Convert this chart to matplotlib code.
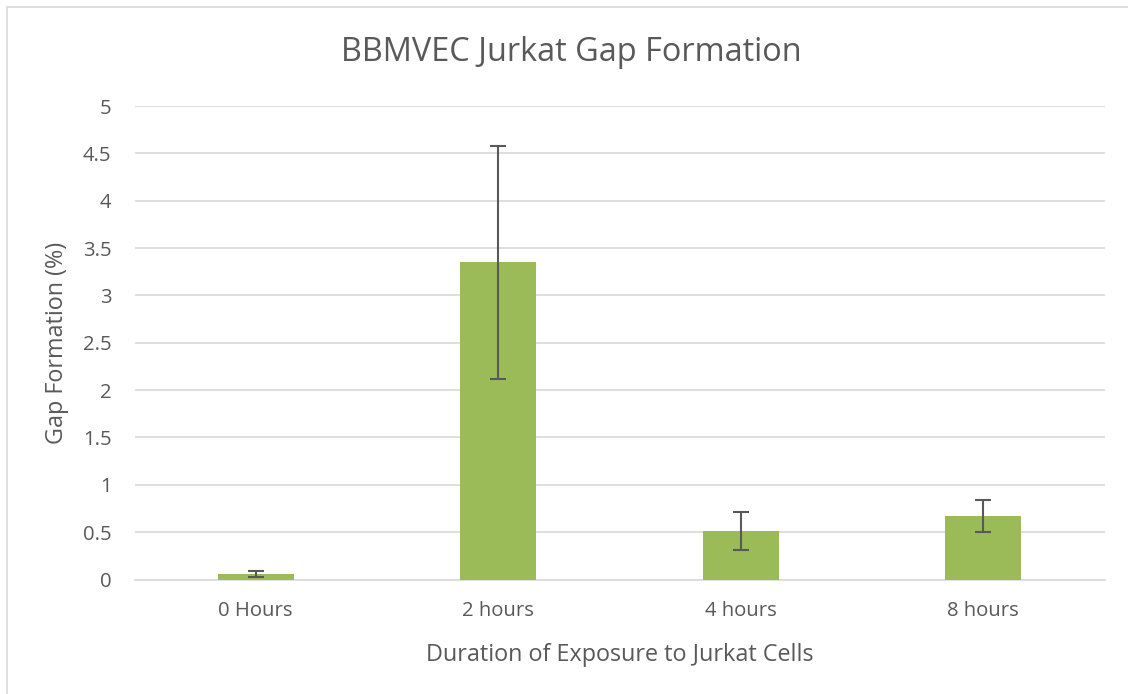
import matplotlib.pyplot as plt
from matplotlib.patches import Rectangle

categories = ['0 Hours', '2 hours', '4 hours', '8 hours']
gap_formation = [0.06, 3.35, 0.51, 0.67]
gap_error = [0.03, 1.23, 0.20, 0.165]

plt.rcParams['font.family'] = ['Open Sans', 'DejaVu Sans']

W, H = 1128, 694
fig = plt.figure(figsize=(W / 100, H / 100), dpi=100)
ax = fig.add_axes([134.5 / W, 1 - 579.5 / H, (1104.5 - 134.5) / W, (579.5 - 106) / H])

# outer chart border (only left/top edges visible in reference)
fig.patches.append(Rectangle((7 / W, -0.1), 1.2, 1 - 7 / H + 0.1, transform=fig.transFigure,
                             fill=False, edgecolor='#d9d9d9', linewidth=1.2))

x = range(len(categories))
ax.bar(x, gap_formation, width=0.315, color='#9bbb59', zorder=3)
ax.errorbar(x, gap_formation, yerr=gap_error, fmt='none', ecolor='#595959',
            elinewidth=1.5, capsize=6, capthick=1.5, zorder=4)

ax.set_xlim(-0.5, 3.5)
ax.set_ylim(0, 5)
ax.set_yticks([0, 0.5, 1, 1.5, 2, 2.5, 3, 3.5, 4, 4.5, 5])
ax.set_yticklabels(['0', '0.5', '1', '1.5', '2', '2.5', '3', '3.5', '4', '4.5', '5'])
ax.set_xticks(list(x))
ax.set_xticklabels(categories)
ax.yaxis.grid(True, color='#d9d9d9', linewidth=1.2, zorder=0)
for s in ['top', 'right', 'left']:
    ax.spines[s].set_visible(False)
ax.spines['bottom'].set_color('#d9d9d9')
ax.spines['bottom'].set_linewidth(1.2)
ax.tick_params(axis='both', length=0, labelsize=14.6, colors='#595959')
ax.tick_params(axis='y', pad=16.5)
ax.tick_params(axis='x', pad=15.5)

ax.set_xlabel('Duration of Exposure to Jurkat Cells', fontsize=16.8, color='#595959', labelpad=16)
ax.set_ylabel('Gap Formation (%)', fontsize=16.8, color='#595959', labelpad=10)
fig.text(571 / W, 1 - 61 / H, 'BBMVEC Jurkat Gap Formation', ha='center', va='baseline',
         fontsize=23.4, color='#595959')

fig.savefig('out.png', dpi=100)
